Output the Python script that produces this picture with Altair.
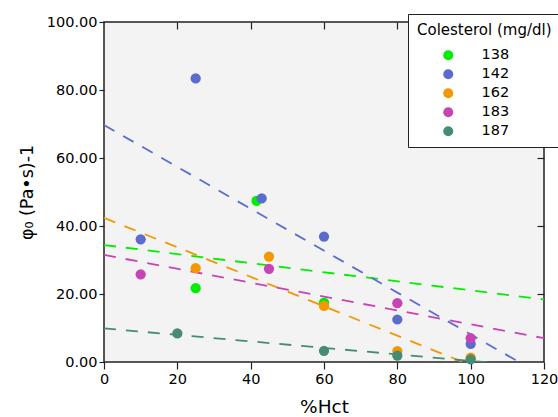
import altair as alt
import pandas as pd

series = ["138", "142", "162", "183", "187"]
colors = ["#00ee00", "#5b6dcc", "#f39800", "#c844b4", "#468c73"]

# measured points (%Hct, phi0)
hct_138 = [25, 41.6, 60]
phi_138 = [21.7, 47.4, 17.5]
hct_142 = [10, 25, 43, 60, 80, 100]
phi_142 = [36.1, 83.4, 48.1, 36.9, 12.5, 5.3]
hct_162 = [25, 45, 60, 80, 100]
phi_162 = [27.6, 31.0, 16.5, 3.2, 1.3]
hct_183 = [10, 45, 80, 100]
phi_183 = [25.8, 27.4, 17.3, 7.0]
hct_187 = [20, 60, 80, 100]
phi_187 = [8.4, 3.3, 1.9, 0.8]

# fitted trend lines: value at %Hct = 0 and at %Hct = 120
fit_x = [0, 120]
fit_138 = [34.4, 18.4]
fit_142 = [69.7, -4.2]
fit_162 = [42.4, -9.6]
fit_183 = [31.5, 7.0]
fit_187 = [9.9, -1.6]

x_ticks = [0, 20, 40, 60, 80, 100, 120]
y_ticks = [0, 20, 40, 60, 80, 100]

pts_x = [hct_138, hct_142, hct_162, hct_183, hct_187]
pts_y = [phi_138, phi_142, phi_162, phi_183, phi_187]
fits = [fit_138, fit_142, fit_162, fit_183, fit_187]

rows = []
for i, (s, xs, ys) in enumerate(zip(series, pts_x, pts_y)):
    for j, (xv, yv) in enumerate(zip(xs, ys)):
        rows.append({"serie": s, "hct": xv, "phi": yv, "ord": i * 100 + j})
points = pd.DataFrame(rows)

lrows = []
for i, (s, f) in enumerate(zip(series, fits)):
    for xv, yv in zip(fit_x, f):
        lrows.append({"serie": s, "hct": xv, "phi": yv})
lines = pd.DataFrame(lrows)

FONT = "DejaVu Sans"
xscale = alt.Scale(domain=[0, 120], nice=False)
yscale = alt.Scale(domain=[0, 100], nice=False)
cscale = alt.Scale(domain=series, range=colors)

line_layer = alt.Chart(lines).mark_line(
    strokeDash=[12, 10], strokeWidth=1.8, clip=True
).encode(
    x=alt.X("hct:Q", scale=xscale,
            axis=alt.Axis(orient="top", offset=-7, tickSize=7, labels=False,
                          domain=False, values=[20, 40, 60, 80, 100], title=None,
                          tickColor="#222", tickWidth=1.2, grid=False)),
    y=alt.Y("phi:Q", scale=yscale,
            axis=alt.Axis(orient="right", offset=-7, tickSize=7, labels=False,
                          domain=False, values=[20, 40, 60, 80], title=None,
                          tickColor="#222", tickWidth=1.2, grid=False)),
    color=alt.Color("serie:N", scale=cscale, legend=None),
    detail="serie:N",
)

point_layer = alt.Chart(points).mark_circle(size=105, opacity=1).encode(
    x=alt.X("hct:Q", scale=xscale,
            axis=alt.Axis(orient="bottom", values=x_ticks, format="d",
                          title="%Hct", titleFontSize=18.5, titleFontWeight="normal",
                          titleFont=FONT, titleColor="black", titlePadding=12,
                          labelFontSize=14.5, labelFont=FONT, labelColor="black",
                          labelPadding=3, tickSize=7, tickColor="#222",
                          tickWidth=1.2, domain=False, grid=False,
                          labelFlush=False)),
    y=alt.Y("phi:Q", scale=yscale,
            axis=alt.Axis(orient="left", values=y_ticks, format=".2f",
                          title="φ₀ (Pa•s)-1", titleFontSize=17.5,
                          titleFontWeight="normal", titleFont=FONT,
                          titleColor="black", titlePadding=10,
                          labelFontSize=14.5, labelFont=FONT, labelColor="black",
                          labelPadding=2, tickSize=5, tickColor="#222",
                          tickWidth=1.2, domain=False, grid=False,
                          labelFlush=False)),
    color=alt.Color("serie:N", scale=cscale,
                    legend=alt.Legend(
                        title="Colesterol (mg/dl)", orient="none",
                        legendX=304, legendY=-8,
                        titleFont=FONT, titleFontSize=15, titleFontWeight="normal",
                        titleColor="black", titlePadding=10,
                        labelFont=FONT, labelFontSize=14.5, labelColor="black",
                        labelOffset=26, symbolOffset=24,
                        symbolType="circle", symbolSize=100, symbolStrokeWidth=0,
                        rowPadding=4, padding=9, strokeColor="#222",
                        fillColor="white", cornerRadius=0)),
    order=alt.Order("ord:Q"),
)

chart = alt.layer(line_layer, point_layer).resolve_axis(
    x="independent", y="independent"
).resolve_legend(
    color="independent"
).properties(
    width=440, height=340,
    autosize=alt.AutoSizeParams(type="none"),
    padding={"left": 104, "top": 22, "right": 14, "bottom": 55},
    background="white",
).configure_view(
    fill="#f3f3f3", stroke="#222", strokeWidth=1.5
)

chart.save("out.html", embed_options={"renderer": "svg", "actions": False})
